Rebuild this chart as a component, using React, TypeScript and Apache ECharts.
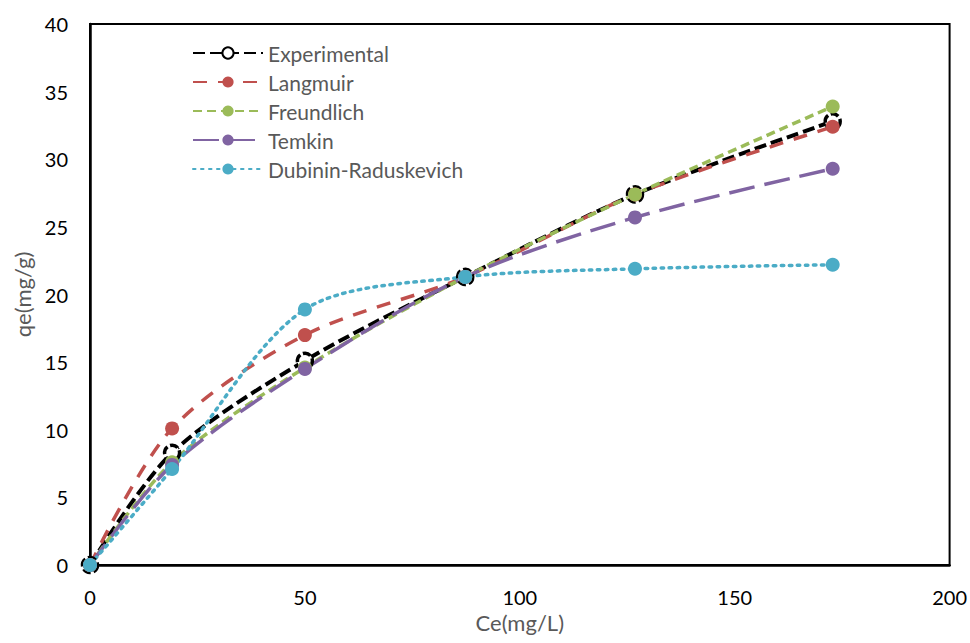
import React, { useEffect, useRef } from "react";
import * as echarts from "echarts";

const ceValues = [0, 19.1, 50, 87.3, 126.8, 172.8];
const experimental = [0, 8.3, 15.1, 21.3, 27.4, 32.8];
const langmuir = [0, 10.1, 17.0, 21.3, 27.4, 32.4];
const freundlich = [0, 7.6, 14.6, 21.3, 27.4, 33.9];
const temkin = [0, 7.4, 14.5, 21.3, 25.7, 29.3];
const dubinin = [0, 7.1, 18.9, 21.3, 21.9, 22.2];
const seriesNames = ["Experimental", "Langmuir", "Freundlich", "Temkin", "Dubinin-Raduskevich"];

const pair = (ys: number[]) => ys.map((y, i) => [ceValues[i], y]);

export default function App() {
  const ref = useRef<HTMLDivElement>(null);
  useEffect(() => {
    if (!ref.current) return;
    const chart = echarts.init(ref.current, undefined, { renderer: "svg" });
    const font = "Lato, 'Open Sans', sans-serif";
    chart.setOption({
      animation: false,
      textStyle: { fontFamily: font },
      grid: { left: 90, right: 20, top: 24, bottom: 78, show: true, borderColor: "#000", borderWidth: 2, backgroundColor: "#fff" },
      legend: {
        orient: "vertical",
        left: 187,
        top: 37,
        itemWidth: 70,
        itemHeight: 14,
        itemGap: 7,
        textStyle: { fontSize: 21, color: "#595959", lineHeight: 22, fontFamily: font },
        data: seriesNames,
      },
      xAxis: {
        type: "value",
        min: 0,
        max: 200,
        interval: 50,
        name: "Ce(mg/L)",
        nameLocation: "middle",
        nameGap: 46,
        nameTextStyle: { fontSize: 22, color: "#595959" },
        axisLine: { lineStyle: { color: "#000", width: 2.5 } },
        axisTick: { show: false },
        splitLine: { show: false },
        axisLabel: { fontSize: 20, color: "#000", margin: 22 },
      },
      yAxis: {
        type: "value",
        min: 0,
        max: 40,
        interval: 5,
        name: "qe(mg/g)",
        nameLocation: "middle",
        nameGap: 51,
        nameTextStyle: { fontSize: 22, color: "#595959" },
        axisLine: { show: true, lineStyle: { color: "#000", width: 2.5 } },
        axisTick: { show: false },
        splitLine: { show: false },
        axisLabel: { fontSize: 20, color: "#000", margin: 22 },
      },
      series: [
        {
          name: "Experimental",
          type: "line",
          smooth: 0.3,
          data: pair(experimental),
          symbol: "circle",
          symbolSize: 15,
          lineStyle: { color: "#000", width: 4, type: [12, 5] },
          itemStyle: { color: "#fff", borderColor: "#000", borderWidth: 3.5, borderType: [8, 3] },
        },
        {
          name: "Langmuir",
          type: "line",
          smooth: 0.3,
          data: pair(langmuir),
          symbol: "circle",
          symbolSize: 14,
          lineStyle: { color: "#C0504D", width: 3.5, type: [14, 11] },
          itemStyle: { color: "#C0504D" },
        },
        {
          name: "Freundlich",
          type: "line",
          smooth: 0.3,
          data: pair(freundlich),
          symbol: "circle",
          symbolSize: 14,
          lineStyle: { color: "#9BBB59", width: 3.5, type: [9, 5] },
          itemStyle: { color: "#9BBB59" },
        },
        {
          name: "Temkin",
          type: "line",
          smooth: 0.3,
          data: pair(temkin),
          symbol: "circle",
          symbolSize: 14,
          lineStyle: { color: "#8064A2", width: 3.5, type: [26, 10] },
          itemStyle: { color: "#8064A2" },
        },
        {
          name: "Dubinin-Raduskevich",
          type: "line",
          smooth: 0.3,
          data: pair(dubinin),
          symbol: "circle",
          symbolSize: 14,
          lineStyle: { color: "#4BACC6", width: 3.5, type: [2.5, 5.5], cap: "round" },
          itemStyle: { color: "#4BACC6" },
        },
      ],
    });
    return () => chart.dispose();
  }, []);
  return <div ref={ref} style={{ width: 970, height: 643, position: "absolute", left: 0, top: 0, background: "#fff" }} />;
}
